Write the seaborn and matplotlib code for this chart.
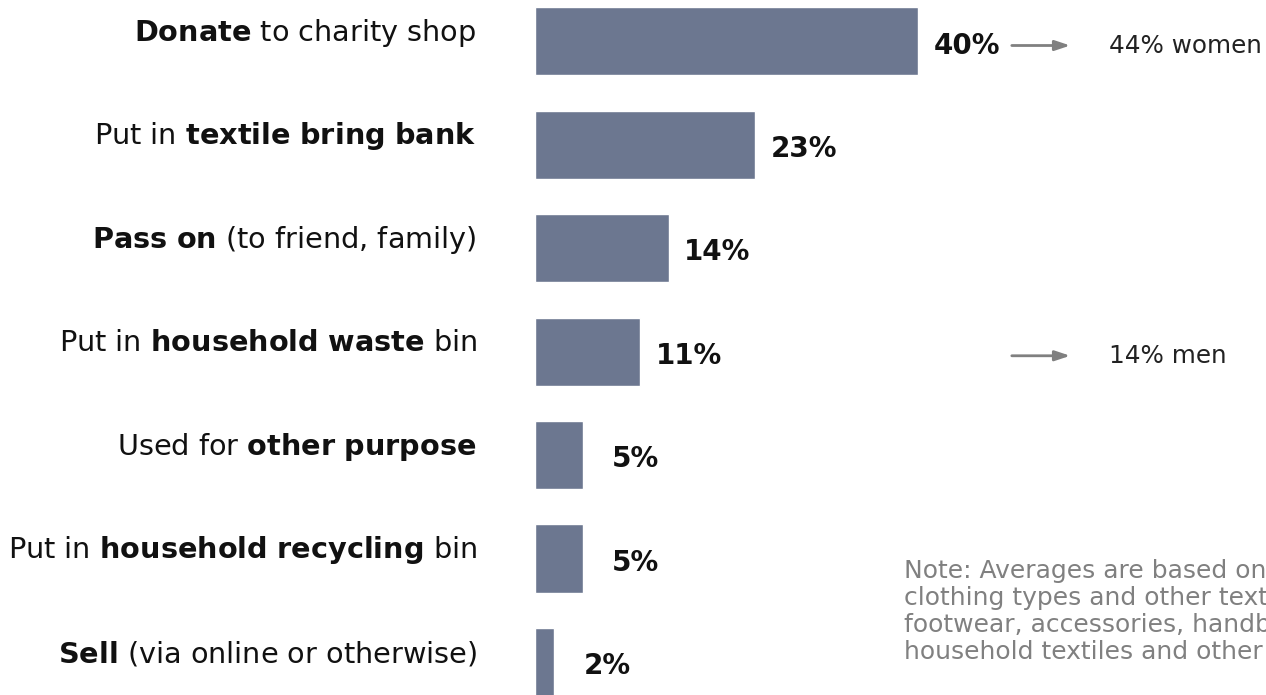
import matplotlib
matplotlib.use("Agg")
import matplotlib.pyplot as plt
import seaborn as sns
import pandas as pd

sns.set_style("white")
plt.rcParams["font.family"] = ["DejaVu Sans"]
plt.rcParams["mathtext.fontset"] = "dejavusans"

# Disposal routes: bold part / regular parts of each label
lead = ["", "Put in ", "", "Put in ", "Used for ", "Put in ", ""]
bold = ["Donate", "textile bring bank", "Pass on", "household waste",
        "other purpose", "household recycling", "Sell"]
tail = [" to charity shop", "", " (to friend, family)", " bin", "",
        " bin", " (via online or otherwise)"]
shares = [40, 23, 14, 11, 5, 5, 2]

side_notes = {0: "44% women", 3: "14% men"}
note_lines = [
    "Note: Averages are based on all",
    "clothing types and other textiles,",
    "footwear, accessories, handbags,",
    "household textiles and other items",
]

BAR = "#6c7790"
GREY = "#808080"


def mixed(pre, b, post):
    b_tex = b.replace(" ", r"\ ")
    return pre + r"$\mathbf{" + b_tex + "}$" + post


labels = [mixed(p, b, t) for p, b, t in zip(lead, bold, tail)]
df = pd.DataFrame({"route": labels, "share": shares})

fig = plt.figure(figsize=(12.66, 6.95), dpi=100)
ax = fig.add_axes([535 / 1266, 0, 731 / 1266, 1])

sns.barplot(data=df, x="share", y="route", orient="h", color=BAR,
            saturation=1, width=0.66, ax=ax)

ax.set_xlim(0, 76.35)
ax.set_ylim(6.32, -0.4)
ax.set_xlabel("")
ax.set_ylabel("")
ax.set_xticks([])
ax.set_yticks([])
sns.despine(ax=ax, left=True, bottom=True)

# Category labels, right aligned to the left of the bars
for i, lab in enumerate(labels):
    ax.annotate(lab, xy=(0, i), xycoords=("axes fraction", "data"),
                xytext=(-42, 6), textcoords="offset points",
                ha="right", va="center", fontsize=20.7, color="#111111",
                annotation_clip=False)

# Value labels
for i, v in enumerate(shares):
    off = 11 if v >= 10 else 21
    ax.annotate(f"{v}%", xy=(v, i), xytext=(off, -3),
                textcoords="offset points", ha="left", va="center",
                fontsize=20, fontweight="bold", color="#111111")

# Gender breakdown call-outs
for i, txt in side_notes.items():
    ax.annotate("", xy=(55.9, i + 0.04), xytext=(49.8, i + 0.04),
                arrowprops=dict(arrowstyle="-|>,head_length=0.9,head_width=0.3",
                                color=GREY, lw=2, shrinkA=0, shrinkB=0))
    ax.text(60.0, i + 0.04, txt, ha="left", va="center", fontsize=17.7,
            color="#222222")

# Footnote block in the lower right corner
fig.text(904 / 1266, 1 - 559 / 695, "\n".join(note_lines), ha="left",
         va="top", fontsize=18, color=GREY, linespacing=1.16)

fig.savefig("out.png", dpi=100)
